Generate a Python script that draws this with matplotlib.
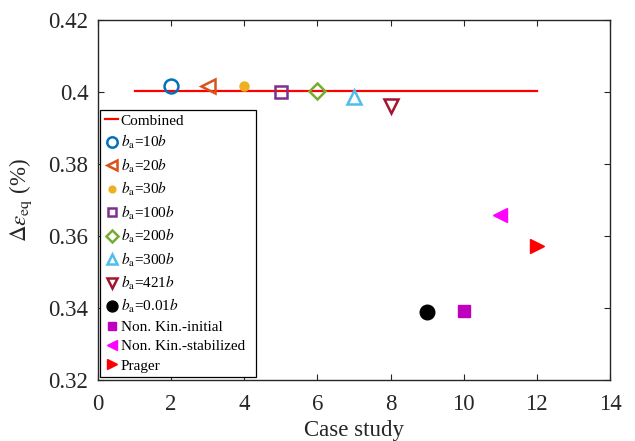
import matplotlib
matplotlib.use("Agg")
import matplotlib.pyplot as plt

plt.rcParams['font.family'] = ['Liberation Serif', 'DejaVu Serif']
plt.rcParams['mathtext.fontset'] = 'stix'

# Combined result (horizontal reference line)
combined_x = [1, 12]
combined_val = 0.4003

# Case studies with back-stress parameter b_a
ba_labels = [r'$b_\mathrm{a}$=10$b$', r'$b_\mathrm{a}$=20$b$', r'$b_\mathrm{a}$=30$b$',
             r'$b_\mathrm{a}$=100$b$', r'$b_\mathrm{a}$=200$b$', r'$b_\mathrm{a}$=300$b$',
             r'$b_\mathrm{a}$=421$b$', r'$b_\mathrm{a}$=0.01$b$']
ba_case = [2, 3, 4, 5, 6, 7, 8, 9]
ba_values = [0.4017, 0.4018, 0.4017, 0.4001, 0.4004, 0.3987, 0.3962, 0.3390]

# Other models
model_labels = ['Non. Kin.-initial', 'Non. Kin.-stabilized', 'Prager']
model_case = [10, 11, 12]
model_values = [0.3391, 0.3658, 0.3573]

ba_styles = [
    dict(marker='o', mfc='none', mec='#0072BD', ms=10, mew=1.8),
    dict(marker='<', mfc='none', mec='#D95319', ms=10, mew=1.8),
    dict(marker='o', mfc='#EDB120', mec='#EDB120', ms=6.5, mew=1),
    dict(marker='s', mfc='none', mec='#7E2F8E', ms=8.5, mew=1.8),
    dict(marker='D', mfc='none', mec='#77AC30', ms=8, mew=1.8),
    dict(marker='^', mfc='none', mec='#4DBEEE', ms=10, mew=1.8),
    dict(marker='v', mfc='none', mec='#A2142F', ms=10, mew=1.8),
    dict(marker='o', mfc='black', mec='black', ms=10.5, mew=1),
]
model_styles = [
    dict(marker='s', mfc='#BF00BF', mec='#BF00BF', ms=8.5, mew=1),
    dict(marker='<', mfc='#FF00FF', mec='#FF00FF', ms=10, mew=1),
    dict(marker='>', mfc='#FF0000', mec='#FF0000', ms=10, mew=1),
]

fig = plt.figure(figsize=(6.35, 4.41), dpi=100)
ax = fig.add_axes([98 / 635, 61 / 441, 512 / 635, 360 / 441])

ax.plot(combined_x, [combined_val, combined_val], color='#FF0000', lw=1.6, label='Combined')
for x, y, lab, st in zip(ba_case, ba_values, ba_labels, ba_styles):
    ax.plot([x], [y], linestyle='none', label=lab, **st)
for x, y, lab, st in zip(model_case, model_values, model_labels, model_styles):
    ax.plot([x], [y], linestyle='none', label=lab, **st)

ax.set_xlim(0, 14)
ax.set_ylim(0.32, 0.42)
ax.set_xticks(range(0, 15, 2))
ax.set_yticks([0.32, 0.34, 0.36, 0.38, 0.40, 0.42])
ax.set_yticklabels(['0.32', '0.34', '0.36', '0.38', '0.4', '0.42'])

spine_color = '#262626'
for s in ax.spines.values():
    s.set_color(spine_color)
    s.set_linewidth(1.0)
ax.tick_params(direction='in', length=4, width=0.8, color=spine_color,
               top=True, right=True, labelsize=16.5, labelcolor='#262626')
ax.tick_params(axis='x', pad=10)
ax.tick_params(axis='y', pad=7)

ax.set_xlabel('Case study', fontsize=16.5, color='#262626', labelpad=4)
ax.set_ylabel(r'$\Delta\epsilon_\mathrm{eq}$ (%)', fontsize=16.5, color='#262626', labelpad=10)

leg = ax.legend(loc='lower left', bbox_to_anchor=(0.004, 0.008, 0.305, 0.5),
                mode='expand', fontsize=11,
                frameon=True, fancybox=False, edgecolor='black', framealpha=1,
                handlelength=0.9, handletextpad=0.15, borderpad=0.3,
                labelspacing=0.35, borderaxespad=0, numpoints=1, markerscale=0.75)
leg.get_frame().set_linewidth(0.9)

fig.savefig('out.png', dpi=100)
